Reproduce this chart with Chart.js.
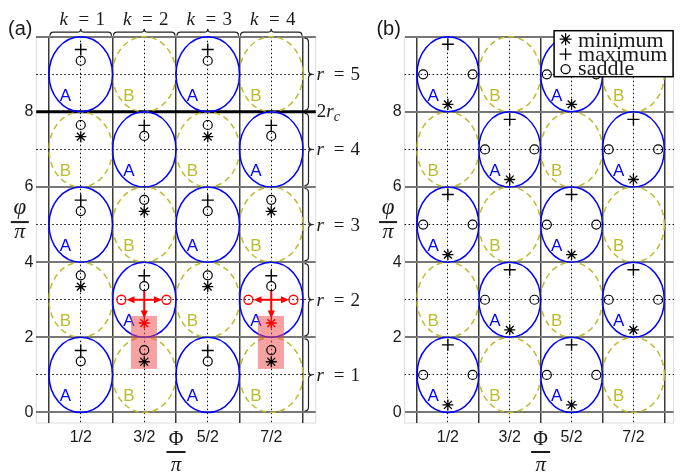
<!DOCTYPE html>
<html>
<head>
<meta charset="utf-8">
<script src="https://cdn.jsdelivr.net/npm/chart.js@4.4.1/dist/chart.umd.min.js"></script>
<style>
  body { margin: 0; background: #fff; width: 681px; height: 474px; position: relative; overflow: hidden; }
  canvas { position: absolute; top: 0; }
  #chartA { left: 0; }
  #chartB { left: 340px; }
</style>
</head>
<body>
<canvas id="chartA" width="381" height="474"></canvas>
<canvas id="chartB" width="341" height="474"></canvas>
<script>
// axis ticks / grid
const xTicks = [0.5, 1.5, 2.5, 3.5];
const xTickLabels = ['1/2', '3/2', '5/2', '7/2'];
const xCellEdges = [0, 1, 2, 3, 4];
const yTicks = [0, 2, 4, 6, 8, 10];
const yMidLines = [1, 3, 5, 7, 9];
const kValues = [1, 2, 3, 4];
const rValues = [1, 2, 3, 4, 5];

// cell centres of the A (solid) and B (dashed) ellipses
const cellsA = [[0.5, 1], [2.5, 1], [1.5, 3], [3.5, 3], [0.5, 5], [2.5, 5], [1.5, 7], [3.5, 7], [0.5, 9], [2.5, 9]];
const cellsB = [[1.5, 1], [3.5, 1], [0.5, 3], [2.5, 3], [1.5, 5], [3.5, 5], [0.5, 7], [2.5, 7], [1.5, 9], [3.5, 9]];

// panel (a) extrema
const maxA = [[0.5, 1.65], [2.5, 1.65], [1.5, 3.64], [3.5, 3.64], [0.5, 5.65], [2.5, 5.65], [1.5, 7.64], [3.5, 7.64], [0.5, 9.66], [2.5, 9.66]];
const saddleA = [[0.5, 1.36], [2.5, 1.36], [1.5, 3.36], [3.5, 3.36], [0.5, 5.36], [2.5, 5.36], [1.5, 7.36], [3.5, 7.36], [0.5, 9.36], [2.5, 9.36],
                 [1.5, 1.66], [3.5, 1.66], [0.5, 3.65], [2.5, 3.65], [1.5, 5.66], [3.5, 5.66], [0.5, 7.65], [2.5, 7.65]];
const minA = [[1.5, 1.35], [3.5, 1.35], [0.5, 3.35], [2.5, 3.35], [1.5, 5.35], [3.5, 5.35], [0.5, 7.34], [2.5, 7.34]];
const redSaddleA = [[1.14, 3], [1.85, 3], [3.14, 3], [3.85, 3]];
const redMinA = [[1.5, 2.38], [3.5, 2.38]];
const redArrowsA = [[1.5, 3, 1.22, 3], [1.5, 3, 1.78, 3], [1.5, 3.26, 1.5, 2.5],
                    [3.5, 3, 3.22, 3], [3.5, 3, 3.78, 3], [3.5, 3.26, 3.5, 2.5]];
const redBoxesA = [[1.29, 1.16, 1.70, 2.57], [3.29, 1.16, 3.70, 2.57]];

// panel (b) extrema
const maxB = [[0.5, 1.8], [2.5, 1.8], [1.5, 3.8], [3.5, 3.8], [0.5, 5.8], [2.5, 5.8], [1.5, 7.8], [3.5, 7.8], [0.5, 9.8], [2.5, 9.8]];
const minB = [[0.5, 0.2], [2.5, 0.2], [1.5, 2.2], [3.5, 2.2], [0.5, 4.2], [2.5, 4.2], [1.5, 6.2], [3.5, 6.2], [0.5, 8.2], [2.5, 8.2]];
const saddleB = [[0.1, 1], [0.9, 1], [2.1, 1], [2.9, 1], [1.1, 3], [1.9, 3], [3.1, 3], [3.9, 3],
                 [0.1, 5], [0.9, 5], [2.1, 5], [2.9, 5], [1.1, 7], [1.9, 7], [3.1, 7], [3.9, 7],
                 [0.1, 9], [0.9, 9], [2.1, 9], [2.9, 9]];
const legendItems = [['star', 'minimum'], ['cross', 'maximum'], ['circle', 'saddle']];

const ink = '#1a1a1a';
const blue = '#0000ff';
const olive = '#bcbc2e';
const red = '#ff0000';
const sans = '"Liberation Sans", Arial, sans-serif';
const serif = '"Liberation Serif", "Times New Roman", serif';

function markSet(pts, style, r, color, lw) {
  return {
    data: pts.map(([x, y]) => ({ x, y })),
    pointStyle: style, pointRadius: r, pointHoverRadius: r,
    pointBorderColor: color, pointBackgroundColor: 'rgba(0,0,0,0)',
    pointBorderWidth: lw, pointHoverBorderWidth: lw, showLine: false
  };
}

function drawMark(ctx, style, x, y, r, color, lw) {
  ctx.save();
  ctx.strokeStyle = color; ctx.lineWidth = lw;
  ctx.beginPath();
  if (style === 'cross' || style === 'star') {
    ctx.moveTo(x - r, y); ctx.lineTo(x + r, y);
    ctx.moveTo(x, y - r); ctx.lineTo(x, y + r);
  }
  if (style === 'star') {
    const d = r * 0.707;
    ctx.moveTo(x - d, y - d); ctx.lineTo(x + d, y + d);
    ctx.moveTo(x - d, y + d); ctx.lineTo(x + d, y - d);
  }
  if (style === 'circle') ctx.arc(x, y, r, 0, 2 * Math.PI);
  ctx.stroke();
  ctx.restore();
}

function braceH(ctx, x0, x1, y, h) {
  const m = (x0 + x1) / 2, q = h / 2;
  ctx.beginPath();
  ctx.moveTo(x0, y);
  ctx.quadraticCurveTo(x0, y - q, x0 + q, y - q);
  ctx.lineTo(m - q, y - q);
  ctx.quadraticCurveTo(m, y - q, m, y - h);
  ctx.quadraticCurveTo(m, y - q, m + q, y - q);
  ctx.lineTo(x1 - q, y - q);
  ctx.quadraticCurveTo(x1, y - q, x1, y);
  ctx.stroke();
}

function braceV(ctx, x, y0, y1, w) {
  const m = (y0 + y1) / 2, q = w / 2;
  ctx.beginPath();
  ctx.moveTo(x, y0);
  ctx.quadraticCurveTo(x + q, y0, x + q, y0 + q);
  ctx.lineTo(x + q, m - q);
  ctx.quadraticCurveTo(x + q, m, x + w, m);
  ctx.quadraticCurveTo(x + q, m, x + q, m + q);
  ctx.lineTo(x + q, y1 - q);
  ctx.quadraticCurveTo(x + q, y1, x, y1);
  ctx.stroke();
}

function fraction(ctx, top, topFont, bottom, bottomFont, cx, barY, barW, topBase, botBase) {
  ctx.save();
  ctx.fillStyle = ink; ctx.textAlign = 'center'; ctx.textBaseline = 'alphabetic';
  ctx.font = topFont; ctx.fillText(top, cx, barY - topBase);
  ctx.fillRect(cx - barW / 2, barY - 1, barW, 2);
  ctx.font = bottomFont; ctx.fillText(bottom, cx, barY + botBase);
  ctx.restore();
}

function panelPlugin(p) {
  return {
    id: 'panel_' + p.name,
    beforeDraw(chart) {
      const { ctx, chartArea: a } = chart;
      ctx.save();
      ctx.strokeStyle = '#dcdcdc'; ctx.lineWidth = 1;
      ctx.strokeRect(a.left, a.top, a.right - a.left, a.bottom - a.top);
      ctx.restore();
    },
    beforeDatasetsDraw(chart) {
      const { ctx, chartArea: a, scales: { x, y } } = chart;
      ctx.save();
      if (p.thickLine !== undefined) {
        ctx.strokeStyle = '#000'; ctx.lineWidth = 3;
        ctx.beginPath();
        ctx.moveTo(a.left, y.getPixelForValue(p.thickLine));
        ctx.lineTo(a.right, y.getPixelForValue(p.thickLine));
        ctx.stroke();
      }
      const ell = (cells, color, dash) => {
        ctx.strokeStyle = color; ctx.lineWidth = 1.5; ctx.setLineDash(dash);
        cells.forEach(([cx, cy]) => {
          const px = x.getPixelForValue(cx), py = y.getPixelForValue(cy);
          const rx = x.getPixelForValue(cx + 0.5) - px;
          const ry = py - y.getPixelForValue(cy + 1);
          ctx.beginPath();
          ctx.ellipse(px, py, rx, ry, 0, 0, 2 * Math.PI);
          ctx.stroke();
        });
      };
      ell(cellsB, olive, [6, 4]);
      ell(cellsA, blue, []);
      ctx.setLineDash([]);
      // cell labels
      ctx.font = '17px ' + sans; ctx.textAlign = 'center'; ctx.textBaseline = 'middle';
      ctx.fillStyle = blue;
      cellsA.forEach(([cx, cy]) => ctx.fillText('A', x.getPixelForValue(cx - 0.24), y.getPixelForValue(cy - 0.58)));
      ctx.fillStyle = olive;
      cellsB.forEach(([cx, cy]) => ctx.fillText('B', x.getPixelForValue(cx - 0.24), y.getPixelForValue(cy - 0.58)));
      // red shaded boxes
      ctx.fillStyle = 'rgba(240, 70, 70, 0.5)';
      (p.boxes || []).forEach(([x0, y0, x1, y1]) => {
        const l = x.getPixelForValue(x0), r = x.getPixelForValue(x1);
        const t = y.getPixelForValue(y1), b = y.getPixelForValue(y0);
        ctx.fillRect(l, t, r - l, b - t);
      });
      // red arrows
      ctx.strokeStyle = red; ctx.fillStyle = red; ctx.lineWidth = 2;
      (p.arrows || []).forEach(([x0, y0, x1, y1]) => {
        const ax = x.getPixelForValue(x0), ay = y.getPixelForValue(y0);
        const bx = x.getPixelForValue(x1), by = y.getPixelForValue(y1);
        const ang = Math.atan2(by - ay, bx - ax), L = 8, W = 3.5;
        ctx.beginPath(); ctx.moveTo(ax, ay);
        ctx.lineTo(bx - L * 0.8 * Math.cos(ang), by - L * 0.8 * Math.sin(ang)); ctx.stroke();
        ctx.beginPath();
        ctx.moveTo(bx, by);
        ctx.lineTo(bx - L * Math.cos(ang) - W * Math.sin(ang), by - L * Math.sin(ang) + W * Math.cos(ang));
        ctx.lineTo(bx - L * Math.cos(ang) + W * Math.sin(ang), by - L * Math.sin(ang) - W * Math.cos(ang));
        ctx.closePath(); ctx.fill();
      });
      ctx.restore();
    },
    afterDraw(chart) {
      const { ctx, chartArea: a, scales: { x, y } } = chart;
      ctx.save();
      ctx.fillStyle = ink; ctx.textBaseline = 'alphabetic';
      // panel tag
      ctx.font = '20px ' + sans; ctx.textAlign = 'center';
      ctx.fillText(p.tag, a.left - 16, 35);
      // axis titles
      fraction(ctx, '\u03C6', 'italic 23px ' + serif, '\u03C0', 'italic 22px ' + serif,
               a.left - 16.5, y.getPixelForValue(5) - 2.5, 18, 8, 16);
      fraction(ctx, '\u03A6', '20px ' + serif, '\u03C0', 'italic 21px ' + serif,
               x.getPixelForValue(2), a.bottom + 29, 19, 7, 19);
      if (p.braces) {
        ctx.strokeStyle = '#222'; ctx.lineWidth = 1.2;
        ctx.font = '19px ' + serif;
        kValues.forEach(k => {
          const x0 = x.getPixelForValue(k - 1), x1 = x.getPixelForValue(k);
          braceH(ctx, x0 + 1, x1 - 1, a.top - 1, 7);
          const c = (x0 + x1) / 2;
          ctx.textAlign = 'center';
          ctx.font = 'italic 19px ' + serif; ctx.fillText('k', c - 17, 25);
          ctx.font = '19px ' + serif; ctx.fillText('=', c + 3, 25); ctx.fillText(String(k), c + 19.5, 25);
        });
        const bx = x.getPixelForValue(4) + 1.5;
        rValues.forEach(r => {
          const y0 = y.getPixelForValue(2 * r), y1 = y.getPixelForValue(2 * r - 2);
          braceV(ctx, bx, y0 + 1.5, y1 - 1.5, 8);
          const m = (y0 + y1) / 2 + 6, x0 = a.right + 1;
          ctx.textAlign = 'center';
          ctx.font = 'italic 19px ' + serif; ctx.fillText('r', x0 + 3.5, m);
          ctx.font = '19px ' + serif; ctx.fillText('=', x0 + 22.5, m); ctx.fillText(String(r), x0 + 38.5, m);
        });
        const ty = y.getPixelForValue(p.thickLine) + 5.5, tx = a.right + 1;
        ctx.textAlign = 'left';
        ctx.font = '19px ' + serif; ctx.fillText('2', tx, ty);
        ctx.font = 'italic 19px ' + serif; ctx.fillText('r', tx + 9.5, ty);
        ctx.font = 'italic 14px ' + serif; ctx.fillText('c', tx + 17, ty + 4);
      }
      if (p.legend) {
        const w = 119, h = 46, lx = a.right - w - 0.5, ly = a.top - 6;
        ctx.fillStyle = '#fff'; ctx.fillRect(lx, ly, w, h);
        ctx.strokeStyle = '#000'; ctx.lineWidth = 1.5; ctx.strokeRect(lx, ly, w, h);
        ctx.fillStyle = ink; ctx.textAlign = 'left'; ctx.font = '22px ' + serif;
        legendItems.forEach(([style, label], i) => {
          const sy = ly + 8.5 + i * 15;
          drawMark(ctx, style, lx + 11.5, sy, style === 'circle' ? 4.5 : 6, '#000', 1.3);
          ctx.fillText(label, lx + 24, ly + 16 + i * 14.3);
        });
      }
      ctx.restore();
    }
  };
}

function panelScales(xMax, yAxisWidth) {
  const xl = { min: -0.2, max: xMax }, yl = { min: -0.28, max: 10 };
  return {
    x: {
      type: 'linear', position: 'bottom', ...xl,
      afterBuildTicks: s => { s.ticks = xTicks.map(v => ({ value: v })); },
      afterFit: s => { s.height = 51; },
      ticks: { autoSkip: false, maxRotation: 0, padding: 5, color: ink,
               font: { family: sans, size: 16 }, callback: v => xTickLabels[xTicks.indexOf(v)] },
      grid: { color: '#000', lineWidth: 1, drawTicks: false },
      border: { display: false, dash: [1.5, 2.5] }
    },
    xc: {
      type: 'linear', position: 'top', ...xl,
      afterBuildTicks: s => { s.ticks = xCellEdges.map(v => ({ value: v })); },
      afterFit: s => { s.height = 0; },
      ticks: { display: false },
      grid: { color: '#3a3a3a', lineWidth: 1.5, drawTicks: false },
      border: { display: false }
    },
    y: {
      type: 'linear', position: 'left', ...yl,
      afterBuildTicks: s => { s.ticks = yTicks.map(v => ({ value: v })); },
      afterFit: s => { s.width = yAxisWidth; },
      ticks: { padding: 3, color: ink, font: { family: sans, size: 16 }, callback: v => (v === 10 ? '' : String(v)) },
      grid: { color: '#777', lineWidth: 2, drawTicks: false },
      border: { display: false }
    },
    yc: {
      type: 'linear', position: 'right', ...yl,
      afterBuildTicks: s => { s.ticks = yMidLines.map(v => ({ value: v })); },
      afterFit: s => { s.width = 0; },
      ticks: { display: false },
      grid: { color: '#000', lineWidth: 1, drawTicks: false },
      border: { display: false, dash: [1.5, 2.5] }
    }
  };
}

function baseOptions(xMax, yAxisWidth, padRight) {
  return {
    responsive: false, animation: false,
    layout: { padding: { top: 36.7, right: padRight, left: 0, bottom: 0 } },
    plugins: { legend: { display: false }, tooltip: { enabled: false } },
    scales: panelScales(xMax, yAxisWidth)
  };
}

new Chart('chartA', {
  type: 'scatter',
  data: {
    datasets: [
      markSet(maxA, 'cross', 6, '#000', 1.4),
      markSet(saddleA, 'circle', 4.5, '#000', 1.2),
      markSet(minA, 'star', 5.5, '#000', 1.3),
      markSet(redSaddleA, 'circle', 4.5, red, 1.3),
      markSet(redMinA, 'star', 5.5, red, 1.4)
    ]
  },
  options: baseOptions(4.2, 36.3, 381 - 315.7),
  plugins: [panelPlugin({ name: 'a', tag: '(a)', thickLine: 8, braces: true, boxes: redBoxesA, arrows: redArrowsA })]
});

new Chart('chartB', {
  type: 'scatter',
  data: {
    datasets: [
      markSet(maxB, 'cross', 6, '#000', 1.4),
      markSet(saddleB, 'circle', 4.5, '#000', 1.2),
      markSet(minB, 'star', 5.5, '#000', 1.3)
    ]
  },
  options: baseOptions(4.15, 64.6, 0),
  plugins: [panelPlugin({ name: 'b', tag: '(b)', legend: true })]
});
</script>
</body>
</html>
